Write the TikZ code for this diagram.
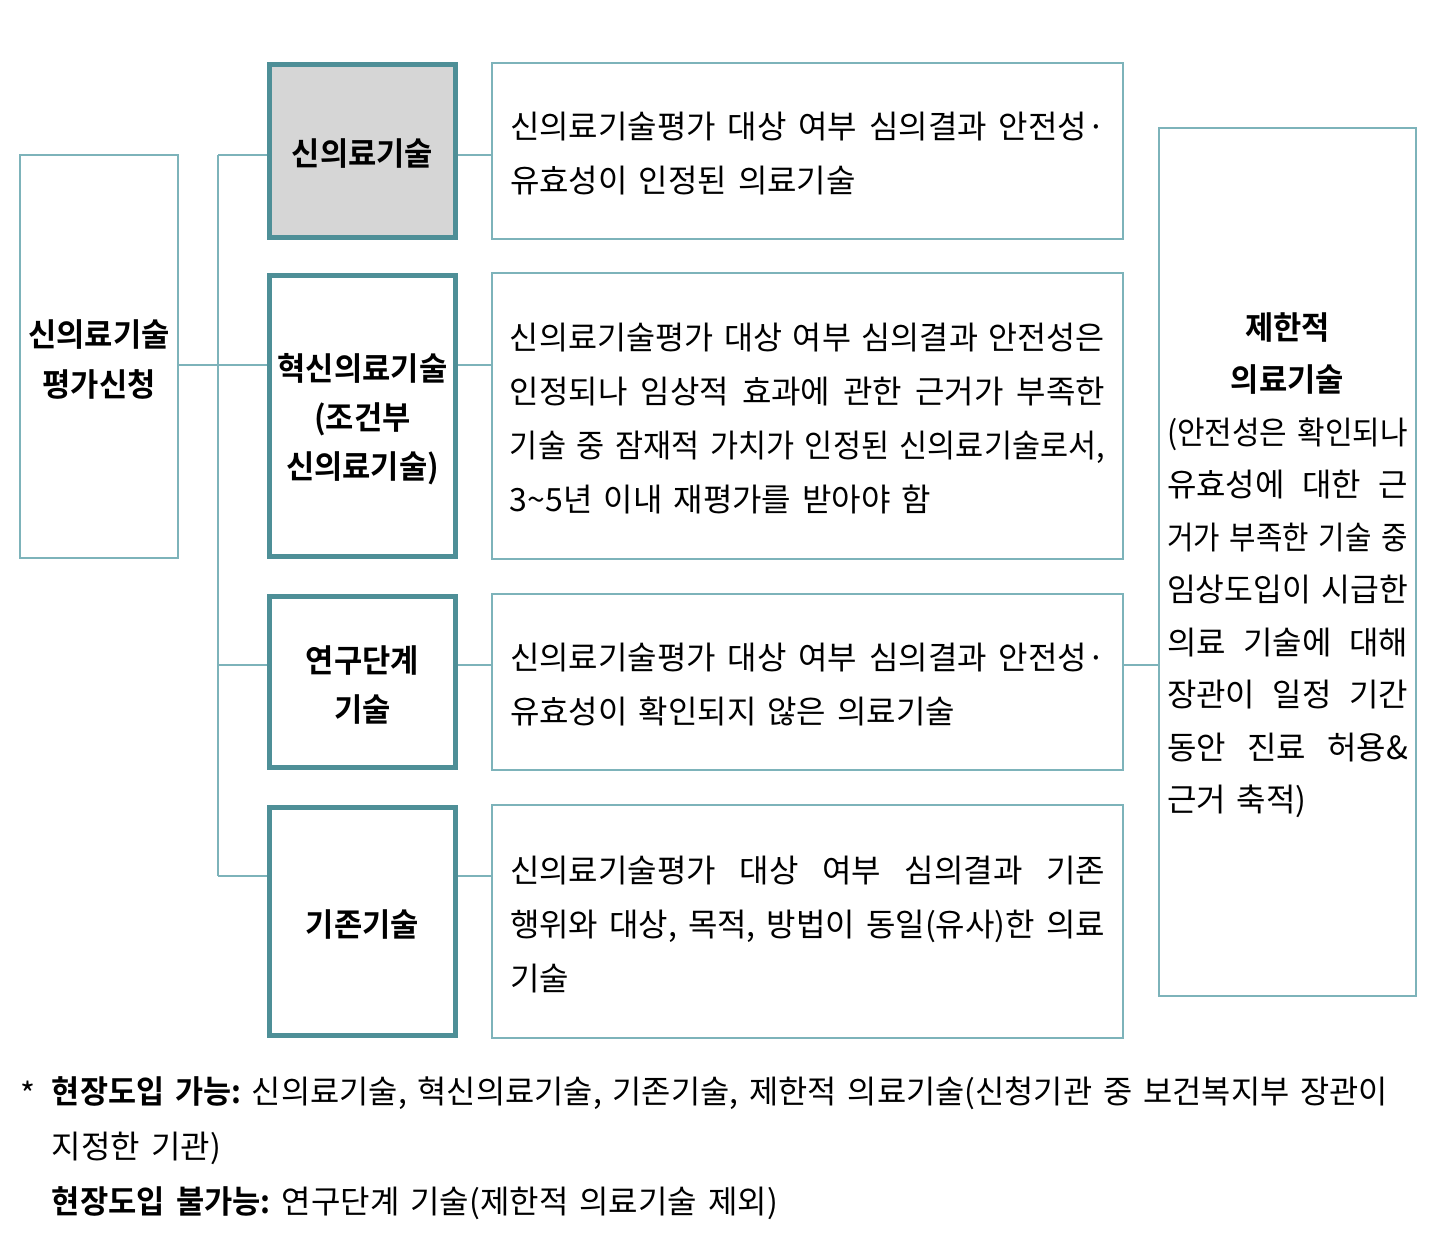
\documentclass[tikz,border=0pt]{standalone}
\usepackage{fontspec}
\usepackage{graphicx}
\setmainfont[BoldFont={Noto Sans CJK KR Bold},BoldFeatures={FakeStretch=0.96}]{Noto Sans CJK KR}
\definecolor{thickc}{HTML}{4E8F97}
\definecolor{thinc}{HTML}{7DB3BA}
\definecolor{grayf}{HTML}{D6D6D6}
\newlength\LW
\newcommand\kfont{\fontsize{32}{40}\selectfont}
\newcommand\jln[1]{\setbox0\hbox{#1}\ifdim\wd0>\LW\hbox{\resizebox{\LW}{\height}{#1}}\else\hbox to \LW{\spaceskip=11pt plus 100pt minus 4pt\relax #1}\fi}
\newcommand\lln[1]{\hbox to \LW{#1\hfil}}
\newcommand\cln[1]{\hbox to \LW{\hfil#1\hfil}}
\newcommand\mylines[3]{\vbox{\LW=#1\baselineskip=#2\frenchspacing\spaceskip=11pt plus 2pt minus 3pt\relax\vskip 6pt #3}}
\tikzset{
  midbox/.style={draw=thickc, line width=5pt, minimum width=186pt, inner sep=0pt, font=\bfseries\kfont},
  descbox/.style={draw=thinc, line width=1.5pt, minimum width=631pt, inner sep=0pt, font=\kfont},
  sidebox/.style={draw=thinc, line width=1.5pt, inner sep=0pt, font=\kfont},
  conn/.style={draw=thinc, line width=1.5pt}
}
\begin{document}
\begin{tikzpicture}[x=1pt,y=-1pt]
\useasboundingbox (0,0) rectangle (1442,1236);
% left box
\node[sidebox, minimum width=158pt, minimum height=403pt] (L) at (99,356.5) {\mylines{150pt}{50pt}{\bfseries\cln{신의료기술}\cln{평가신청}}};
% middle boxes
\node[midbox, fill=grayf, minimum height=173.5pt] (M1) at (362.5,151) {\mylines{180pt}{49pt}{\cln{신의료기술}}};
\node[midbox, minimum height=281pt] (M2) at (362.5,416) {\mylines{180pt}{49pt}{\cln{혁신의료기술}\cln{(조건부}\cln{신의료기술)}}};
\node[midbox, minimum height=171pt] (M3) at (362.5,682) {\mylines{180pt}{49pt}{\cln{연구단계}\cln{기술}}};
\node[midbox, minimum height=228pt] (M4) at (362.5,921.5) {\mylines{180pt}{49pt}{\cln{기존기술}}};
% description boxes
\node[descbox, minimum height=176pt] (D1) at (807.5,151) {\mylines{595pt}{54pt}{\jln{신의료기술평가 대상 여부 심의결과 안전성·}\lln{유효성이 인정된 의료기술}}};
\node[descbox, minimum height=286pt] (D2) at (807.5,416) {\mylines{595pt}{54pt}{\jln{신의료기술평가 대상 여부 심의결과 안전성은}\jln{인정되나 임상적 효과에 관한 근거가 부족한}\jln{기술 중 잠재적 가치가 인정된 신의료기술로서,}\lln{3\textasciitilde5년 이내 재평가를 받아야 함}}};
\node[descbox, minimum height=176pt] (D3) at (807.5,682) {\mylines{595pt}{54pt}{\jln{신의료기술평가 대상 여부 심의결과 안전성·}\lln{유효성이 확인되지 않은 의료기술}}};
\node[descbox, minimum height=233pt] (D4) at (807.5,921.5) {\mylines{595pt}{54pt}{\jln{신의료기술평가 대상 여부 심의결과 기존}\jln{행위와 대상, 목적, 방법이 동일(유사)한 의료}\lln{기술}}};
% right box
\node[sidebox, minimum width=257pt, minimum height=868pt] (R) at (1287.5,562) {\mylines{241pt}{52.5pt}{\cln{\bfseries 제한적}\cln{\bfseries 의료기술}\jln{(안전성은 확인되나}\jln{유효성에 대한 근}\jln{거가 부족한 기술 중}\jln{임상도입이 시급한}\jln{의료 기술에 대해}\jln{장관이 일정 기간}\jln{동안 진료 허용\&}\lln{근거 축적)}}};
% connectors
\coordinate (t1) at (218,155);
\coordinate (t2) at (218,365);
\coordinate (t3) at (218,665);
\coordinate (t4) at (218,876);
\draw[conn] (t1) -- (t4);
\draw[conn] (L.east |- t2) -- (t2);
\draw[conn] (t1) -- (M1.west |- t1);
\draw[conn] (t2) -- (M2.west |- t2);
\draw[conn] (t3) -- (M3.west |- t3);
\draw[conn] (t4) -- (M4.west |- t4);
\draw[conn] (M1.east |- t1) -- (D1.west |- t1);
\draw[conn] (M2.east |- t2) -- (D2.west |- t2);
\draw[conn] (M3.east |- t3) -- (D3.west |- t3);
\draw[conn] (M4.east |- t4) -- (D4.west |- t4);
\draw[conn] (D3.east |- t3) -- (R.west |- t3);
% footnote
\node[font=\kfont, inner sep=0pt] (star) at (28,1094) {*};
\node[inner sep=0pt, font=\kfont] (F) at (720,1145) {\mylines{1336pt}{55pt}{\jln{\textbf{현장도입 가능:} 신의료기술, 혁신의료기술, 기존기술, 제한적 의료기술(신청기관 중 보건복지부 장관이}\lln{지정한 기관)}\lln{\textbf{현장도입 불가능:} 연구단계 기술(제한적 의료기술 제외)}}};
\end{tikzpicture}
\end{document}
